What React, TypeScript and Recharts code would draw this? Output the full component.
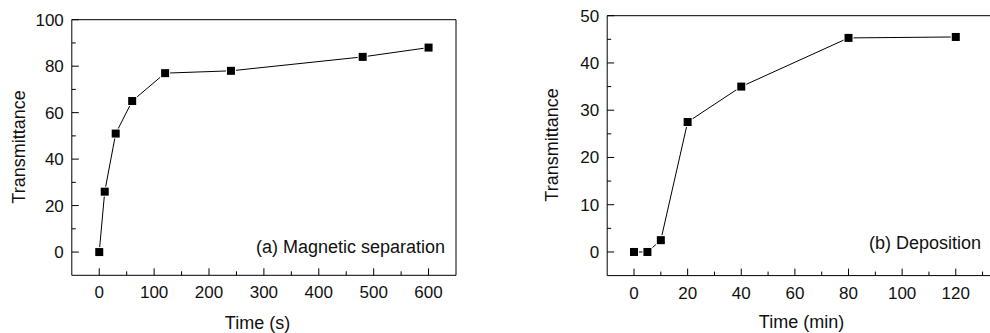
import React from "react";
import { LineChart, Line, XAxis, YAxis, ReferenceLine } from "recharts";

// (a) magnetic separation
const magTime = [0, 10, 30, 60, 120, 240, 480, 600];
const magTrans = [0, 26, 51, 65, 77, 78, 84, 88];
const magXMajor = [0, 100, 200, 300, 400, 500, 600];
const magXMinor = [50, 150, 250, 350, 450, 550];
const magYMajor = [0, 20, 40, 60, 80, 100];
const magYMinor = [10, 30, 50, 70, 90];

// (b) deposition
const depTime = [0, 5, 10, 20, 40, 80, 120];
const depTrans = [0, 0, 2.5, 27.5, 35, 45.3, 45.5];
const depXMajor = [0, 20, 40, 60, 80, 100, 120];
const depXMinor = [10, 30, 50, 70, 90, 110, 130];
const depYMajor = [0, 10, 20, 30, 40, 50];
const depYMinor = [5, 15, 25, 35, 45];

const FONT = '"Liberation Sans", Arial, sans-serif';
const INK = "#111";
const AX_W = 20; // y axis width
const AX_H = 20; // x axis height

const magData = magTime.map((t, i) => ({ t, v: magTrans[i] }));
const depData = depTime.map((t, i) => ({ t, v: depTrans[i] }));

const allTicks = (a: number[], b: number[]) => [...a, ...b].sort((p, q) => p - q);

function XTick(props: any) {
  const { x, y, payload, majors } = props;
  const major = majors.includes(payload.value);
  return (
    <g>
      <line x1={x} x2={x} y1={y} y2={y - (major ? 7 : 4)} stroke="#000" />
      {major && (
        <text x={x} y={y + 23} textAnchor="middle" fontSize={17} fontFamily={FONT} fill={INK}>
          {payload.value}
        </text>
      )}
    </g>
  );
}

function YTick(props: any) {
  const { x, y, payload, majors } = props;
  const major = majors.includes(payload.value);
  return (
    <g>
      <line x1={x} x2={x + (major ? 7 : 4)} y1={y} y2={y} stroke="#000" />
      {major && (
        <text x={x - 8} y={y + 6} textAnchor="end" fontSize={17} fontFamily={FONT} fill={INK}>
          {payload.value}
        </text>
      )}
    </g>
  );
}

const square = (props: any) => {
  const { cx, cy, index } = props;
  return (
    <g key={index}>
      <rect x={cx - 5} y={cy - 5} width={10} height={10} fill="#fff" />
      <rect x={cx - 4} y={cy - 4} width={8} height={8} fill="#000" />
    </g>
  );
};

export default function App() {
  return (
    <div
      style={{
        position: "absolute",
        left: 0,
        top: 0,
        width: 990,
        height: 333,
        overflow: "hidden",
        background: "#fff",
      }}
    >
      <div style={{ position: "absolute", left: 0, top: 0 }}>
        <LineChart
          width={480}
          height={333}
          data={magData}
          margin={{ top: 19.7, right: 24, bottom: 57.7 - AX_H, left: 71.8 - AX_W }}
        >
          <XAxis
            dataKey="t"
            type="number"
            domain={[-50, 650]}
            ticks={allTicks(magXMajor, magXMinor)}
            interval={0}
            height={AX_H}
            tickSize={0}
            tickMargin={0}
            tickLine={false}
            axisLine={{ stroke: "#000" }}
            tick={(p: any) => <XTick {...p} majors={magXMajor} />}
          />
          <YAxis
            type="number"
            domain={[-10, 100]}
            ticks={allTicks(magYMajor, magYMinor)}
            interval={0}
            width={AX_W}
            tickSize={0}
            tickMargin={0}
            tickLine={false}
            axisLine={{ stroke: "#000" }}
            tick={(p: any) => <YTick {...p} majors={magYMajor} />}
          />
          <ReferenceLine y={100} stroke="#000" />
          <ReferenceLine x={650} stroke="#000" />
          <Line
            dataKey="v"
            stroke="#000"
            strokeWidth={1}
            dot={square}
            activeDot={false}
            isAnimationActive={false}
          />
        </LineChart>
      </div>
      <div style={{ position: "absolute", left: 520, top: 0 }}>
        <LineChart
          width={480}
          height={333}
          data={depData}
          margin={{ top: 15.7, right: 4, bottom: 57.4 - AX_H, left: 87.2 - AX_W }}
        >
          <XAxis
            dataKey="t"
            type="number"
            domain={[-10, 135]}
            ticks={allTicks(depXMajor, depXMinor)}
            interval={0}
            height={AX_H}
            tickSize={0}
            tickMargin={0}
            tickLine={false}
            axisLine={{ stroke: "#000" }}
            tick={(p: any) => <XTick {...p} majors={depXMajor} />}
          />
          <YAxis
            type="number"
            domain={[-5, 50]}
            ticks={allTicks(depYMajor, depYMinor)}
            interval={0}
            width={AX_W}
            tickSize={0}
            tickMargin={0}
            tickLine={false}
            axisLine={{ stroke: "#000" }}
            tick={(p: any) => <YTick {...p} majors={depYMajor} />}
          />
          <ReferenceLine y={50} stroke="#000" />
          <Line
            dataKey="v"
            stroke="#000"
            strokeWidth={1}
            dot={square}
            activeDot={false}
            isAnimationActive={false}
          />
        </LineChart>
      </div>
      <svg
        width={990}
        height={333}
        style={{ position: "absolute", left: 0, top: 0, pointerEvents: "none" }}
        fontFamily={FONT}
        fill={INK}
      >
        <text x={25} y={147} fontSize={18} textAnchor="middle" transform="rotate(-90 25 147)">
          Transmittance
        </text>
        <text x={558} y={145} fontSize={18} textAnchor="middle" transform="rotate(-90 558 145)">
          Transmittance
        </text>
        <text x={257.5} y={329} fontSize={18} textAnchor="middle">
          Time (s)
        </text>
        <text x={801.5} y={328} fontSize={18} textAnchor="middle">
          Time (min)
        </text>
        <text x={445} y={253} fontSize={18} textAnchor="end">
          (a) Magnetic separation
        </text>
        <text x={981} y={248.5} fontSize={18} textAnchor="end">
          (b) Deposition
        </text>
      </svg>
    </div>
  );
}
